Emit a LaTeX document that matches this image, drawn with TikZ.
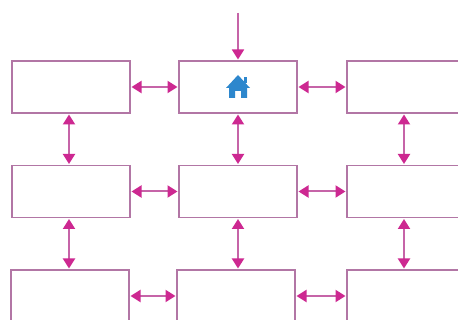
\documentclass[tikz,border=0pt]{standalone}
\usetikzlibrary{arrows.meta}
\definecolor{boxline}{RGB}{178,118,165}
\definecolor{tipcol}{RGB}{205,40,145}
\definecolor{shaftcol}{RGB}{198,100,168}
\definecolor{homeblue}{RGB}{45,135,205}
\begin{document}
\begin{tikzpicture}[x=1pt,y=-1pt,
  cell/.style={draw=boxline,line width=1.6pt,fill=white,minimum width=118pt,minimum height=52pt,inner sep=0pt,outer sep=1.5pt},
  tip/.style={Triangle[length=10pt,width=12pt,color=tipcol]},
  link/.style={draw=shaftcol,line width=2pt,{Triangle[length=10pt,width=12pt,color=tipcol]}-{Triangle[length=10pt,width=12pt,color=tipcol]}},
  inlink/.style={draw=shaftcol,line width=1.8pt,-{Triangle[length=10pt,width=12pt,color=tipcol]}}]
\useasboundingbox (0,0) rectangle (458,320);
\clip (0,0) rectangle (458,320);
\fill[white] (0,0) rectangle (458,320);
% boxes
\node[cell] (a1) at (71,87) {};
\node[cell] (a2) at (238,87) {};
\node[cell] (a3) at (406,87) {};
\node[cell] (b1) at (71,191.5) {};
\node[cell] (b2) at (238,191.5) {};
\node[cell] (b3) at (406,191.5) {};
\node[cell] (c1) at (70,296) {};
\node[cell] (c2) at (236,296) {};
\node[cell] (c3) at (406,296) {};
% entry arrow
\coordinate (start) at (238,13);
\draw[inlink] (start) -- (a2.north);
% horizontal links
\draw[link] (a1.east) -- (a2.west);
\draw[link] (a2.east) -- (a3.west);
\draw[link] (b1.east) -- (b2.west);
\draw[link] (b2.east) -- (b3.west);
\draw[link] (c1.east) -- (c2.west);
\draw[link] (c2.east) -- (c3.west);
% vertical links
\draw[link] ([xshift=-2pt]a1.south) -- ([xshift=-2pt]a1.south |- b1.north);
\draw[link] (a2.south) -- (a2.south |- b2.north);
\draw[link] ([xshift=-2pt]a3.south) -- ([xshift=-2pt]a3.south |- b3.north);
\draw[link] ([xshift=-2pt]b1.south) -- ([xshift=-2pt]b1.south |- c1.north);
\draw[link] (b2.south) -- (b2.south |- c2.north);
\draw[link] ([xshift=-2pt]b3.south) -- ([xshift=-2pt]b3.south |- c3.north);
% home icon
\begin{scope}[shift={(a2.center)}]
\fill[homeblue] (-12,1) -- (0,-12) -- (12,1) -- (9,1) -- (9,11) -- (3,11) -- (3,4) -- (-3,4) -- (-3,11) -- (-9,11) -- (-9,1) -- cycle;
\fill[homeblue] (6,-10) rectangle (9,-4);
\end{scope}
\end{tikzpicture}
\end{document}
